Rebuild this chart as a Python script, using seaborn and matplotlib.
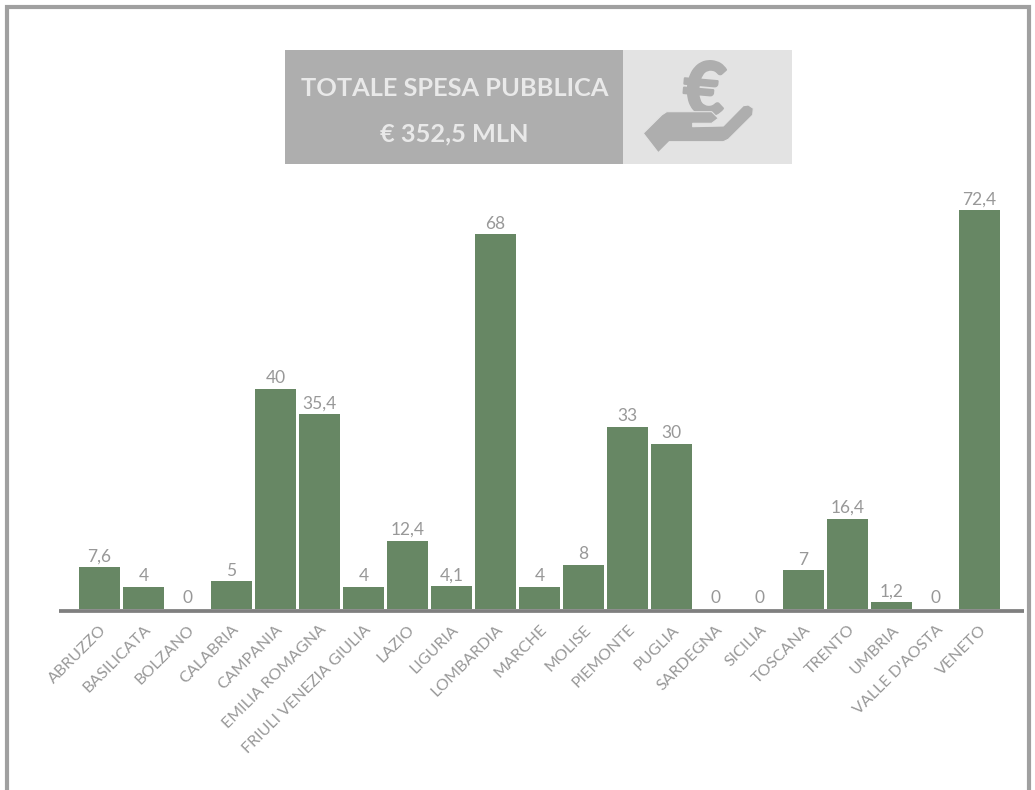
"""
Totale spesa pubblica per regione: bar chart with a header box.
"""

import matplotlib.pyplot as plt
import matplotlib.patches as mpatches
import matplotlib.patheffects as pe
import pandas as pd
import seaborn as sns

REGIONI = [
    "ABRUZZO", "BASILICATA", "BOLZANO", "CALABRIA", "CAMPANIA",
    "EMILIA ROMAGNA", "FRIULI VENEZIA GIULIA", "LAZIO", "LIGURIA",
    "LOMBARDIA", "MARCHE", "MOLISE", "PIEMONTE", "PUGLIA", "SARDEGNA",
    "SICILIA", "TOSCANA", "TRENTO", "UMBRIA", "VALLE D'AOSTA", "VENETO",
]
VALORI = [7.6, 4, 0, 5, 40, 35.4, 4, 12.4, 4.1, 68, 4, 8, 33, 30, 0, 0, 7, 16.4, 1.2, 0, 72.4]
VALORI_LABEL = ["7,6", "4", "0", "5", "40", "35,4", "4", "12,4", "4,1", "68", "4", "8",
                "33", "30", "0", "0", "7", "16,4", "1,2", "0", "72,4"]
TITOLO = "TOTALE SPESA PUBBLICA"
TOTALE = "€ 352,5 MLN"

W, H = 1035, 790
GREEN = "#678764"
TEXT_GREY = "#989898"
DARK_BOX = "#aeaeae"
LIGHT_BOX = "#e3e3e3"

sns.set_theme(style="white")
plt.rcParams["font.family"] = ["Lato", "DejaVu Sans"]

df = pd.DataFrame({"regione": REGIONI, "valore": VALORI})

fig = plt.figure(figsize=(W / 100, H / 100), dpi=100, facecolor="white")

# axes spans the baseline, x 59-1024 and y 609 up to 190
ax = fig.add_axes([59 / W, (H - 609) / H, (1024 - 59) / W, (609 - 190) / H])
ax.patch.set_alpha(0)
sns.barplot(data=df, x="regione", y="valore", color=GREEN, saturation=1,
            width=41 / 44, linewidth=0, ax=ax)
ax.set_xlim(-0.92, 21.01)
ax.set_ylim(0, (609 - 190) / 5.51)
ax.bar_label(ax.containers[0], labels=VALORI_LABEL, color=TEXT_GREY, fontsize=12.5, padding=2)

ax.set_xlabel("")
ax.set_ylabel("")
ax.set_yticks([])
sns.despine(ax=ax, left=True)
ax.spines["bottom"].set_position(("outward", 1.3))
ax.spines["bottom"].set_color("#7f7f7f")
ax.spines["bottom"].set_linewidth(2.7)
ax.spines["bottom"].set_capstyle("butt")
ax.tick_params(axis="x", length=0, pad=8.5, labelsize=11.5, labelcolor=TEXT_GREY)
for lab in ax.get_xticklabels():
    lab.set_rotation(45)
    lab.set_ha("right")
    lab.set_va("top")
    lab.set_rotation_mode("anchor")

# overlay in image pixels for the frame and the header box
over = fig.add_axes([0, 0, 1, 1], zorder=5)
over.set_xlim(0, W)
over.set_ylim(H, 0)
over.axis("off")

over.plot([7, 7, 1029, 1029], [H + 5, 7, 7, H + 5], color="#a0a0a0", lw=3, solid_joinstyle="miter")

over.add_patch(mpatches.Rectangle((285, 50), 338, 114, color=DARK_BOX, lw=0))
over.add_patch(mpatches.Rectangle((623, 50), 169, 114, color=LIGHT_BOX, lw=0))
over.text(454.5, 88, TITOLO, ha="center", va="center", color="#e9e9e9",
          fontsize=18.3, fontweight="bold")
over.text(454.5, 134, TOTALE, ha="center", va="center", color="#e9e9e9",
          fontsize=18.3, fontweight="bold")

# icon: euro sign resting on an open hand
euro = over.text(704, 93, "€", ha="center", va="center", color=DARK_BOX, fontsize=53,
                 fontweight=900, rotation=-5)
euro.set_path_effects([pe.withStroke(linewidth=1.5, foreground=DARK_BOX)])
HAND = [
    (643.3, 133.3), (658.3, 152.7), (669.3, 141.7), (723.3, 141.7), (728.3, 139.3),
    (752.7, 115), (753.3, 108.3), (748.3, 105), (743.3, 105.7), (723.3, 126),
    (692.7, 126.7), (692.7, 123.3), (711.7, 123.3), (718.3, 118.3), (711.7, 111.7),
    (666.7, 111.7), (661.7, 115),
]
over.add_patch(mpatches.Polygon(HAND, closed=True, facecolor=DARK_BOX,
                                edgecolor=LIGHT_BOX, lw=0.8, joinstyle="round", zorder=4))

fig.savefig("out.png", dpi=100)
plt.close(fig)
